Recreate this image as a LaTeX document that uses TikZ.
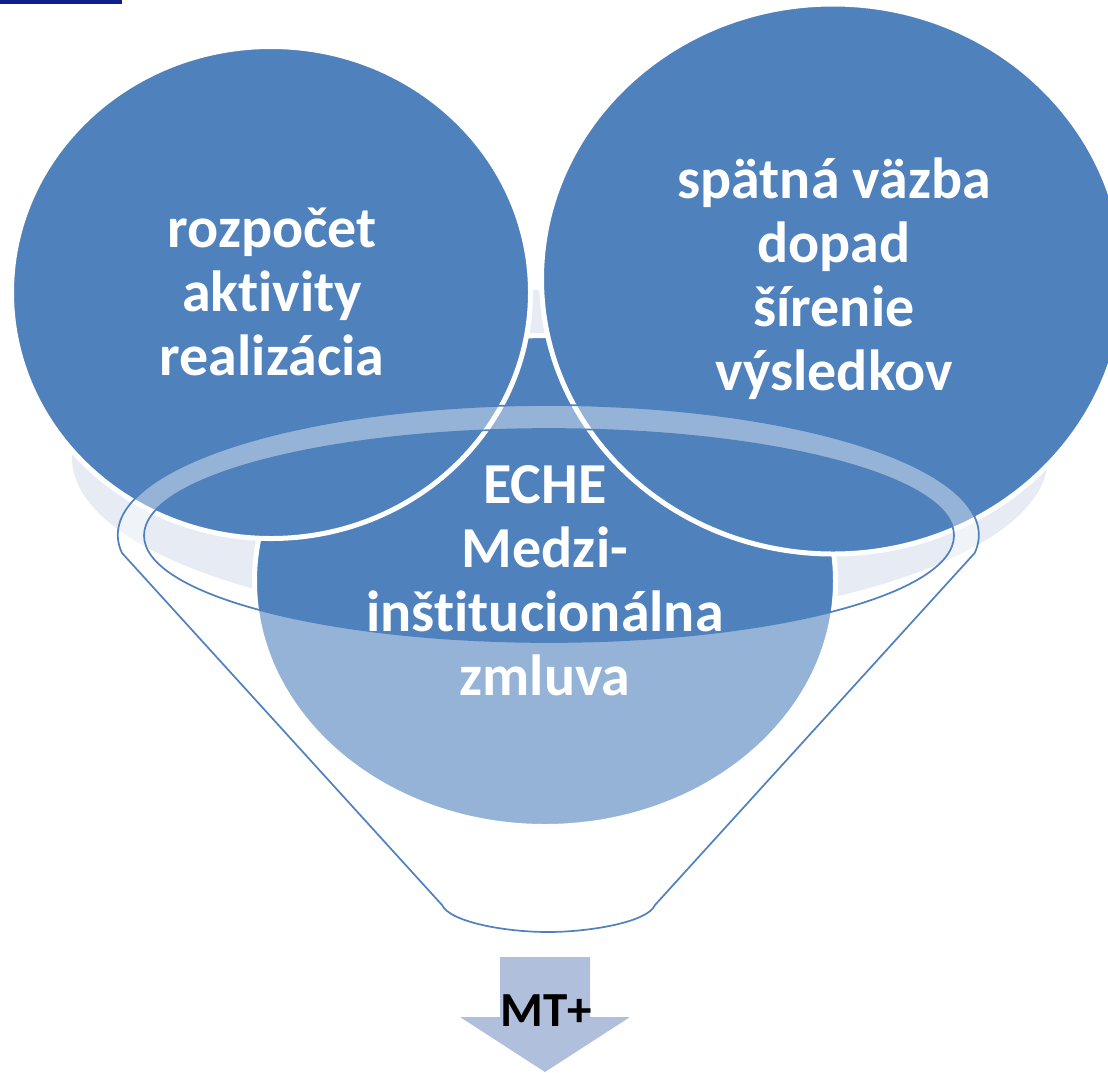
\documentclass[tikz,border=0pt]{standalone}
\usepackage{fontspec}
\setmainfont{Carlito}[Ligatures=NoCommon]
\definecolor{circ}{HTML}{4F81BD}
\definecolor{pale}{HTML}{E6EBF4}
\definecolor{arrowc}{HTML}{B0C0DC}
\definecolor{barc}{HTML}{0F1F8C}
\tikzset{
  bluedisc/.style={fill=circ,draw=white,line width=5pt},
  bigtext/.style={text=white,align=center,font=\bfseries\fontsize{58}{64}\selectfont,inner sep=0pt},
  funnelline/.style={draw=circ,line width=1.7pt}
}
\begin{document}
\begin{tikzpicture}[x=1pt,y=1pt]
\path[use as bounding box,clip] (0,0) rectangle (1108,-1072);
\fill[white] (0,0) rectangle (1108,-1072);
\fill[barc] (0,0) rectangle (122,-4);
% pale shadow ellipse
\fill[pale] (560,-458) ellipse[x radius=488,y radius=168];
% three circles
\draw[bluedisc] (545,-581) ellipse[x radius=290.5,y radius=245.5];
\draw[bluedisc] (271,-292.5) ellipse[x radius=259.5,y radius=246];
\draw[bluedisc] (833,-279) ellipse[x radius=291.5,y radius=275];
% funnel
\fill[white,fill opacity=0.4,even odd rule]
  (122,-553) arc[start angle=187.96,end angle=-7.96,x radius=430.5,y radius=130]
  -- (655,-905) .. controls (648,-922) and (590,-932) .. (548,-932)
  .. controls (505,-932) and (450,-922) .. (442,-905) -- cycle
  (549,-535.5) ellipse[x radius=405,y radius=106.5];
\draw[funnelline]
  (122,-553) arc[start angle=187.96,end angle=-7.96,x radius=430.5,y radius=130]
  -- (655,-905) .. controls (648,-922) and (590,-932) .. (548,-932)
  .. controls (505,-932) and (450,-922) .. (442,-905) -- cycle;
\draw[funnelline] (549,-535.5) ellipse[x radius=405,y radius=106.5];
% arrow
\fill[arrowc] (500,-957) -- (590,-957) -- (590,-1017) -- (630,-1017) -- (545,-1072) -- (460,-1017) -- (500,-1017) -- cycle;
% texts
\node[bigtext] (left) at (272,-292) {rozpočet\\aktivity\\realizácia};
\node[bigtext] (right) at (834,-279) {spätná väzba\\dopad\\šírenie\\výsledkov};
\node[bigtext] (center) at (545,-581) {ECHE\\Medzi-\\inštitucionálna\\zmluva};
\node[inner sep=0pt,font=\bfseries\fontsize{49}{50}\selectfont,text=black] (mt) at (546,-1011) {MT+};
\end{tikzpicture}
\end{document}
